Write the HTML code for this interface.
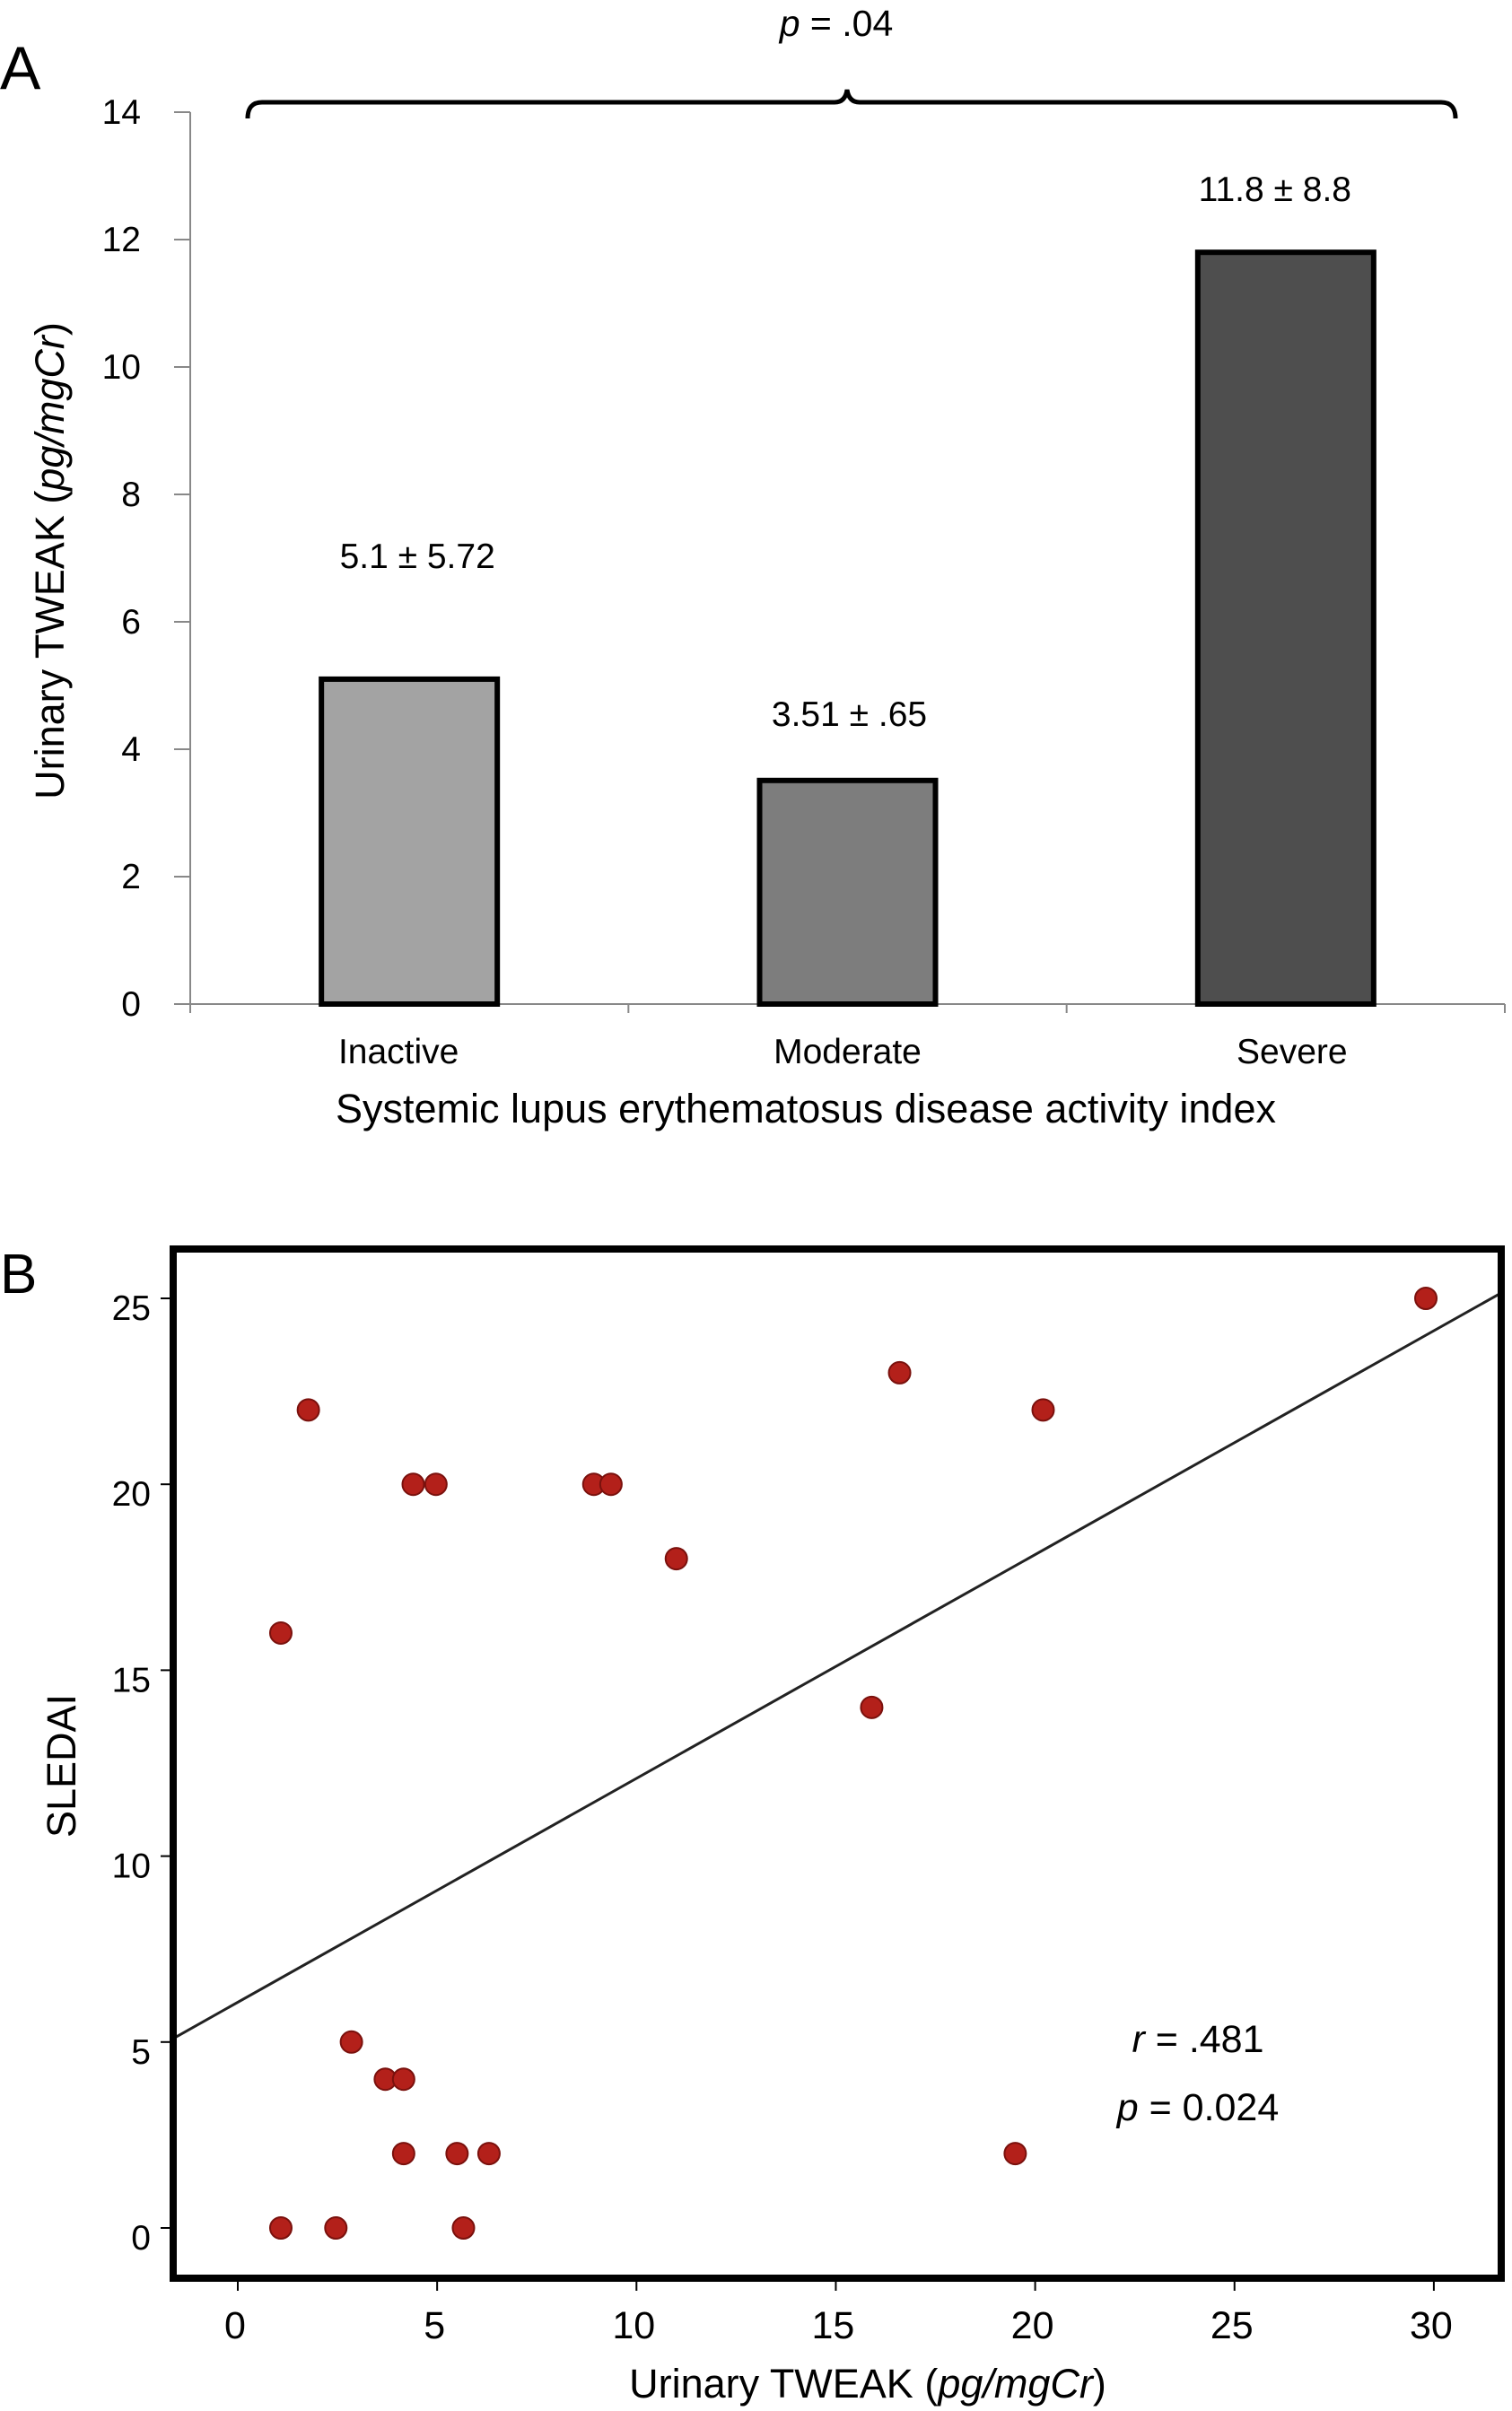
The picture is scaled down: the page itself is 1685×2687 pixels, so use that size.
<!DOCTYPE html>
<html><head><meta charset="utf-8"><style>
html,body{margin:0;padding:0;background:#fff}
svg{display:block}
text{font-family:"Liberation Sans Narrow","Liberation Sans",sans-serif;fill:#000}
</style></head><body>
<svg id="svg" width="1685" height="2687" viewBox="0 0 1685 2687" xmlns="http://www.w3.org/2000/svg">
<g id="chartA"></g>
<g id="chartB"></g>
</svg>
<script>
// Chart A data
const catsA = ["Inactive","Moderate","Severe"];
const valsA = [5.1, 3.51, 11.8];
const labelsA = ["5.1 \u00b1 5.72","3.51 \u00b1 .65","11.8 \u00b1 8.8"];
const colorsA = ["#a3a3a3","#7d7d7d","#4e4e4e"];
const ticksA = [0,2,4,6,8,10,12,14];
// Chart B data
const xsB = [1.08,2.46,5.66,4.16,5.5,6.3,19.5,3.7,4.16,2.85,15.9,1.08,11.0,4.4,4.97,8.93,9.36,1.77,20.2,16.6,29.8];
const ysB = [0,0,0,2,2,2,2,4,4,5,14,16,18,20,20,20,20,22,22,23,25];
const xTicksB = [0,5,10,15,20,25,30];
const yTicksB = [0,5,10,15,20,25];
const fitB = [6.07, 0.602]; // intercept, slope

// layout offsets (pixels)
const labelRise = [124, 61, 57];
const labelShiftX = [9, 2, -12];
const catShiftX = [-12, 0, 7];

const NS="http://www.w3.org/2000/svg";
function mk(parent,tag,attrs,txt){const e=document.createElementNS(NS,tag);for(const k in attrs)e.setAttribute(k,attrs[k]);if(txt!==undefined)e.textContent=txt;parent.appendChild(e);return e;}

// ---- Chart A ----
const gA=document.getElementById('chartA');
const yA=v=>1119-v*71;
const x0A=212,x1A=1677,bandA=(x1A-x0A)/3;
let e;
e=mk(gA,'line',{x1:x0A,y1:yA(14),x2:x0A,y2:yA(0),stroke:'#888','stroke-width':2});


e=mk(gA,'line',{x1:x0A-18,y1:yA(0),x2:x1A,y2:yA(0),stroke:'#888','stroke-width':2});


ticksA.forEach(t=>{
  e=mk(gA,'line',{x1:x0A-18,y1:yA(t),x2:x0A,y2:yA(t),stroke:'#888','stroke-width':2});
  
  
  e=mk(gA,'text',{x:157,y:yA(t)+13,'text-anchor':'end','font-size':39},String(t));
  
  
});
for(let i=0;i<=3;i++){
  e=mk(gA,'line',{x1:x0A+i*bandA,y1:yA(0),x2:x0A+i*bandA,y2:yA(0)+10,stroke:'#888','stroke-width':2});
  
  
}
catsA.forEach((c,i)=>{
  const cx=x0A+bandA*(i+0.5), w=196;
  e=mk(gA,'rect',{x:cx-w/2,y:yA(valsA[i]),width:w,height:yA(0)-yA(valsA[i]),fill:colorsA[i],stroke:'#000','stroke-width':6});
  
  
  e=mk(gA,'text',{x:cx+catShiftX[i],y:1185,'text-anchor':'middle','font-size':39},c);
  
  
  e=mk(gA,'text',{x:cx+labelShiftX[i],y:yA(valsA[i])-labelRise[i],'text-anchor':'middle','font-size':39},labelsA[i]);
  
  
});
e=mk(gA,'text',{x:898,y:1251,'text-anchor':'middle','font-size':45},'Systemic lupus erythematosus disease activity index');


e=mk(gA,'text',{x:0,y:0,'text-anchor':'middle','font-size':45,transform:'translate(71,625) rotate(-90)'});
e.innerHTML='Urinary TWEAK (<tspan font-style="italic">pg/mgCr</tspan>)';


e=mk(gA,'text',{x:0,y:99,'font-size':68,'font-family':'Liberation Sans'},'A');


e=mk(gA,'path',{d:'M276,132 Q276,114 292,114 L930,114 Q942,114 944,100 Q946,114 958,114 L1606,114 Q1622,114 1622,132',fill:'none',stroke:'#000','stroke-width':5});


e=mk(gA,'text',{x:932,y:40,'text-anchor':'middle','font-size':41});
e.innerHTML='<tspan font-style="italic">p</tspan> = .04';



// ---- Chart B ----
const gB=document.getElementById('chartB');
const xB=v=>265+v*44.43;
const yB=v=>2483-v*41.44;
const L=193,R=1673,T=1392,B=2539;
e=mk(gB,'line',{x1:L,y1:yB(fitB[0]+fitB[1]*((L-265)/44.43)),x2:R,y2:yB(fitB[0]+fitB[1]*((R-265)/44.43)),stroke:'#222','stroke-width':3});


xsB.forEach((x,i)=>{
  e=mk(gB,'circle',{cx:xB(x),cy:yB(ysB[i]),r:12,fill:'#b3201a',stroke:'#7a110d','stroke-width':2});
  
  
});
e=mk(gB,'rect',{x:L,y:T,width:R-L,height:B-T,fill:'none',stroke:'#000','stroke-width':8});


yTicksB.forEach(t=>{
  e=mk(gB,'line',{x1:L-14,y1:yB(t),x2:L,y2:yB(t),stroke:'#000','stroke-width':2});
  
  
  e=mk(gB,'text',{x:168,y:yB(t)+24,'text-anchor':'end','font-size':39},String(t));
  
  
});
xTicksB.forEach(t=>{
  e=mk(gB,'line',{x1:xB(t),y1:B,x2:xB(t),y2:B+14,stroke:'#000','stroke-width':2});
  
  
  e=mk(gB,'text',{x:xB(t)-3,y:2606,'text-anchor':'middle','font-size':43},String(t));
  
  
});
e=mk(gB,'text',{x:967,y:2672,'text-anchor':'middle','font-size':45});
e.innerHTML='Urinary TWEAK (<tspan font-style="italic">pg/mgCr</tspan>)';


e=mk(gB,'text',{x:0,y:0,'text-anchor':'middle','font-size':45,transform:'translate(84,1968) rotate(-90)','font-family':'Liberation Sans'},'SLEDAI');


e=mk(gB,'text',{x:0,y:1441,'font-size':62,'font-family':'Liberation Sans'},'B');


e=mk(gB,'text',{x:1335,y:2287,'text-anchor':'middle','font-size':43});
e.innerHTML='<tspan font-style="italic">r</tspan> = .481';


e=mk(gB,'text',{x:1335,y:2363,'text-anchor':'middle','font-size':43});
e.innerHTML='<tspan font-style="italic">p</tspan> = 0.024';


</script>
</body></html>
